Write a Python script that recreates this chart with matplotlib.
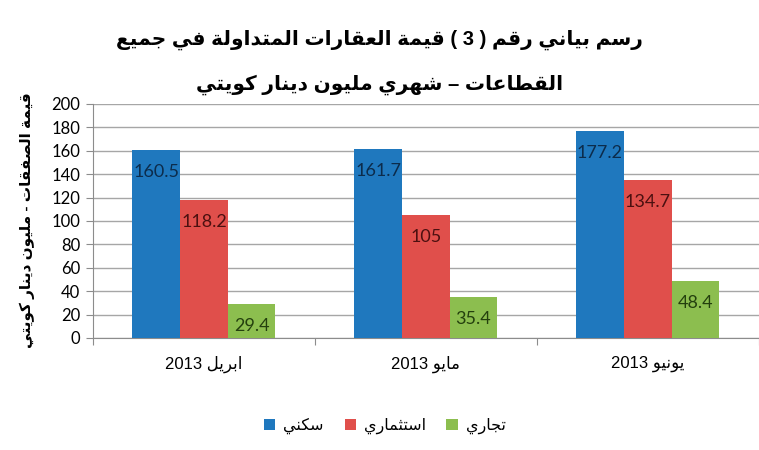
import re
import numpy as np
import matplotlib.pyplot as plt

months = ["ابريل 2013", "مايو 2013", "يونيو 2013"]
series_names = ["سكني", "استثماري", "تجاري"]
residential = [160.5, 161.7, 177.2]
investment = [118.2, 105, 134.7]
commercial = [29.4, 35.4, 48.4]

title_line1 = "رسم بياني رقم ( 3 ) قيمة العقارات المتداولة في جميع"
title_line2 = "القطاعات – شهري مليون دينار كويتي"
ylabel_text = "قيمة الصفقات - مليون دينار كويتي"

# matplotlib has no arabic shaping, so pick presentation forms by hand
# letter -> (isolated form, joins to the next letter)
FORMS = {
    "ا": (0xFE8D, False), "ب": (0xFE8F, True), "ة": (0xFE93, False),
    "ت": (0xFE95, True), "ث": (0xFE99, True), "ج": (0xFE9D, True),
    "ح": (0xFEA1, True), "خ": (0xFEA5, True), "د": (0xFEA9, False),
    "ذ": (0xFEAB, False), "ر": (0xFEAD, False), "ز": (0xFEAF, False),
    "س": (0xFEB1, True), "ش": (0xFEB5, True), "ص": (0xFEB9, True),
    "ض": (0xFEBD, True), "ط": (0xFEC1, True), "ظ": (0xFEC5, True),
    "ع": (0xFEC9, True), "غ": (0xFECD, True), "ف": (0xFED1, True),
    "ق": (0xFED5, True), "ك": (0xFED9, True), "ل": (0xFEDD, True),
    "م": (0xFEE1, True), "ن": (0xFEE5, True), "ه": (0xFEE9, True),
    "و": (0xFEED, False), "ى": (0xFEEF, False), "ي": (0xFEF1, True),
}
MIRROR = {"(": ")", ")": "("}


def shape(s):
    out = []
    for i, ch in enumerate(s):
        if ch not in FORMS:
            out.append(ch)
            continue
        base, dual = FORMS[ch]
        prev_joins = i > 0 and s[i - 1] in FORMS and FORMS[s[i - 1]][1]
        next_joins = i + 1 < len(s) and s[i + 1] in FORMS
        if dual and prev_joins and next_joins:
            code = base + 3
        elif prev_joins:
            code = base + 1
        elif dual and next_joins:
            code = base + 2
        else:
            code = base
        out.append(chr(code))
    shaped = "".join(out)
    # visual order: right to left, digit runs stay left to right
    tokens = re.split(r"([0-9.]+)", shaped)
    vis = []
    for t in reversed(tokens):
        if re.fullmatch(r"[0-9.]+", t):
            vis.append(t)
        else:
            vis.append("".join(MIRROR.get(c, c) for c in reversed(t)))
    return "".join(vis)


AR = ["Liberation Sans", "DejaVu Sans"]
colors = ["#1F78BE", "#E04F4B", "#8CBE4F"]
label_colors = ["#0C2C4C", "#4C1010", "#24400E"]

fig = plt.figure(figsize=(7.59, 4.5), dpi=100)
ax = fig.add_axes([0.1225, 0.249, 0.877, 0.52])

x = np.arange(len(months))
w = 0.215
values = [residential, investment, commercial]
for k, (vals, name) in enumerate(zip(values, series_names)):
    bars = ax.bar(x + (k - 1) * w, vals, w, color=colors[k], label=shape(name), zorder=3)
    for b, v in zip(bars, vals):
        ax.annotate(f"{v:g}", (b.get_x() + b.get_width() / 2, v),
                    xytext=(0, -22), textcoords="offset pixels",
                    ha="center", va="center", fontsize=13, family="Lato",
                    color=label_colors[k], zorder=4)

ax.set_xlim(-0.5, 2.5)
ax.set_ylim(0, 200)
ax.set_yticks(np.arange(0, 201, 20))
ax.yaxis.grid(True, color="#A6A6A6", linewidth=1.0, zorder=0)
ax.set_axisbelow(True)

ax.set_xticks([-0.5, 0.5, 1.5, 2.5])
ax.set_xticklabels([])
ax.set_xticks(x, minor=True)
ax.set_xticklabels([shape(m) for m in months], minor=True, family=AR, fontsize=12)
ax.tick_params(axis="x", which="minor", length=0, pad=13)
ax.tick_params(axis="x", which="major", length=5, color="#8C8C8C")
ax.tick_params(axis="y", length=5, color="#8C8C8C", labelsize=12, pad=4)
for lab in ax.get_yticklabels():
    lab.set_family("Lato")

for s in ["top", "right"]:
    ax.spines[s].set_visible(False)
for s in ["left", "bottom"]:
    ax.spines[s].set_color("#8C8C8C")

fig.text(0.5, 0.911, shape(title_line1), ha="center", va="center",
         fontsize=14.5, fontweight="bold", family=AR)
fig.text(0.5, 0.811, shape(title_line2), ha="center", va="center",
         fontsize=14.5, fontweight="bold", family=AR)
fig.text(0.036, 0.51, shape(ylabel_text), rotation=90, ha="center", va="center",
         fontsize=11, fontweight="bold", family=AR)

fig.legend(loc="center", bbox_to_anchor=(0.507, 0.053), ncol=3, frameon=False,
           handlelength=0.7, handleheight=0.7, handletextpad=0.5, columnspacing=1.3,
           prop={"family": AR, "size": 11.5})

fig.savefig("out.png", dpi=100)
